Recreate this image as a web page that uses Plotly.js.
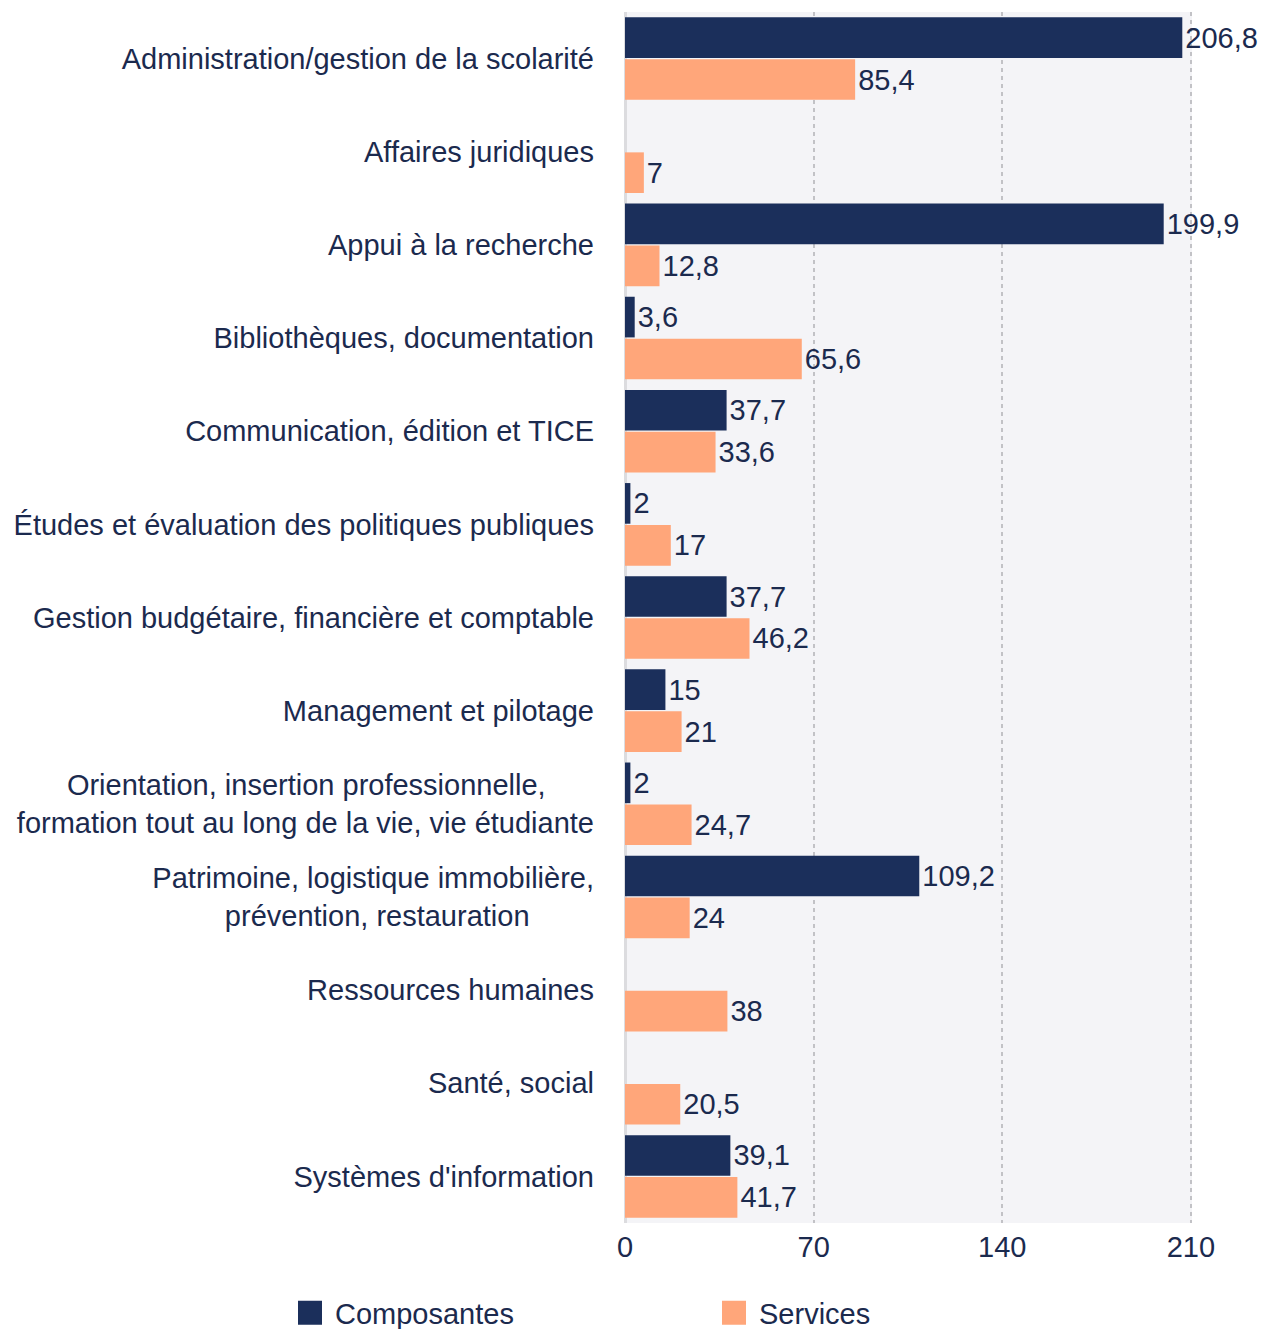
<!DOCTYPE html>
<html><head><meta charset="utf-8">
<script src="https://cdn.plot.ly/plotly-3.0.1.min.js"></script>
<style>body{margin:0;background:#fff}#c{width:1264px;height:1329px}</style>
</head><body><div id="c"></div>
<script>
const categories = [
  "Administration/gestion de la scolarité",
  "Affaires juridiques",
  "Appui à la recherche",
  "Bibliothèques, documentation",
  "Communication, édition et TICE",
  "Études et évaluation des politiques publiques",
  "Gestion budgétaire, financière et comptable",
  "Management et pilotage",
  "Orientation, insertion professionnelle,\u00A0\u00A0\u00A0\u00A0\u00A0\u00A0<br>formation tout au long de la vie, vie étudiante",
  "Patrimoine, logistique immobilière,<br>prévention, restauration\u00A0\u00A0\u00A0\u00A0\u00A0\u00A0\u00A0\u00A0",
  "Ressources humaines",
  "Santé, social",
  "Systèmes d'information"
];
const composantes = [206.8, null, 199.9, 3.6, 37.7, 2, 37.7, 15, 2, 109.2, null, null, 39.1];
const services = [85.4, 7, 12.8, 65.6, 33.6, 17, 46.2, 21, 24.7, 24, 38, 20.5, 41.7];
const tickVals = [0, 70, 140, 210];

const navy = "#1b2f5b", salmon = "#ffa67a", txt = "#1b2a4e";
const fontFam = "Liberation Sans, Arial, sans-serif";

const common = {type: "bar", orientation: "h", y: categories, textposition: "outside",
  texttemplate: "%{x}", cliponaxis: false, hoverinfo: "none",
  textfont: {family: fontFam, size: 29, color: txt}};

const data = [
  Object.assign({}, common, {name: "Composantes", x: composantes, marker: {color: navy}}),
  Object.assign({}, common, {name: "Services", x: services, marker: {color: salmon}})
];

const plotTop = 12, plotBottom = 1223, plotLeft = 625, plotRight = 1192;
const plotH = plotBottom - plotTop, plotW = plotRight - plotLeft;

const layout = {
  width: 1264, height: 1329,
  margin: {l: plotLeft, r: 1264 - plotRight, t: plotTop, b: 1329 - plotBottom, autoexpand: false},
  paper_bgcolor: "#ffffff", plot_bgcolor: "#f4f4f7",
  separators: ", ",
  barmode: "group", bargap: 0.1, bargroupgap: 0.03,
  font: {family: fontFam, size: 29, color: txt},
  showlegend: true,
  legend: {orientation: "h",
    x: (285 - plotLeft) / plotW, xanchor: "left",
    y: -(1313 - plotBottom) / plotH, yanchor: "middle",
    font: {family: fontFam, size: 29, color: txt}, itemwidth: 40,
    entrywidth: 369, entrywidthmode: "pixels", traceorder: "normal"},
  xaxis: {range: [0, 210.4], tickvals: tickVals, ticktext: tickVals.map(String),
    showgrid: true, gridcolor: "#c2c2c6", griddash: "4px,4px", gridwidth: 2,
    zeroline: true, zerolinecolor: "#dcdcdf", zerolinewidth: 3,
    ticks: "", ticklabelstandoff: 4, tickfont: {family: fontFam, size: 29, color: txt}, fixedrange: true},
  yaxis: {autorange: "reversed", showgrid: false, ticks: "", ticklabelstandoff: 30,
    tickfont: {family: fontFam, size: 29, color: txt}, fixedrange: true}
};

Plotly.newPlot("c", data, layout, {displayModeBar: false, staticPlot: true}).then(function (gd) {
  gd.querySelectorAll(".legendpoints path").forEach(function (p) {
    p.setAttribute("d", "M12,12H-12V-12H12Z");
    p.style.strokeWidth = "0";
  });
});
</script></body></html>
